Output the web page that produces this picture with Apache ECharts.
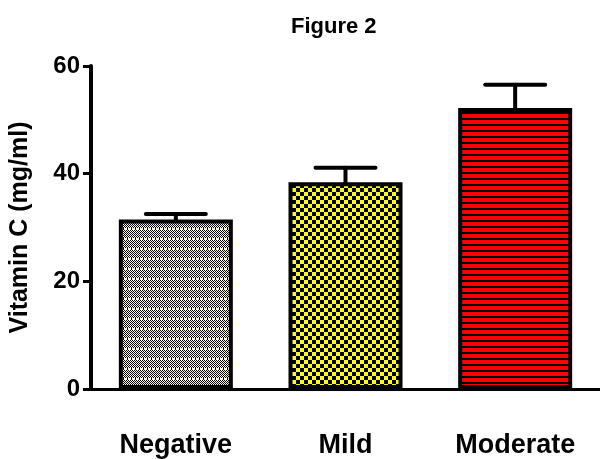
<!DOCTYPE html>
<html>
<head>
<meta charset="utf-8">
<script src="https://cdn.jsdelivr.net/npm/echarts@6/dist/echarts.min.js"></script>
<style>
  html, body { margin: 0; padding: 0; background: #fff; }
  #chart { width: 600px; height: 459px; }
</style>
</head>
<body>
<div id="chart"></div>
<script>
// Vitamin C by group: mean and standard error
const categories = ['Negative', 'Mild', 'Moderate'];
const means = [31.5, 38.4, 52.2];
const errors = [1.0, 2.7, 4.3];
const yTicks = [0, 20, 40, 60];

const FONT = '"Liberation Sans", Arial, sans-serif';

// Fill patterns for each bar
function makeTile(w, h, draw) {
  const c = document.createElement('canvas');
  c.width = w; c.height = h;
  const ctx = c.getContext('2d');
  draw(ctx);
  return c;
}

// fine black / cream checker with a dashed light row
const negTile = makeTile(4, 10, ctx => {
  ctx.fillStyle = '#fdf9dc';
  ctx.fillRect(0, 0, 4, 10);
  ctx.fillStyle = '#000';
  for (let y = 0; y < 8; y++) {
    for (let x = 0; x < 4; x++) {
      if ((x + y) % 2 === 0) ctx.fillRect(x, y, 1, 1);
    }
  }
  ctx.fillRect(3, 8, 1, 2);
});

// coarse yellow / black checker
const mildTile = makeTile(8, 8, ctx => {
  ctx.fillStyle = '#000';
  ctx.fillRect(0, 0, 8, 8);
  ctx.fillStyle = '#ffff00';
  ctx.fillRect(0, 0, 4, 4);
  ctx.fillRect(4, 4, 4, 4);
});

// red with black horizontal stripes
const modTile = makeTile(4, 6, ctx => {
  ctx.fillStyle = '#000';
  ctx.fillRect(0, 0, 4, 6);
  ctx.fillStyle = '#ff0000';
  ctx.fillRect(0, 0, 4, 4);
});

const tiles = [negTile, mildTile, modTile];

const chart = echarts.init(document.getElementById('chart'), null, { renderer: 'canvas' });

const barData = means.map((v, i) => ({
  value: v,
  itemStyle: { color: { image: tiles[i], repeat: 'repeat' } }
}));

const errData = means.map((v, i) => [i, v, v + errors[i]]);

chart.setOption({
  animation: false,
  backgroundColor: '#fff',
  title: {
    text: 'Figure 2',
    left: 286,
    top: 11,
    textStyle: { fontFamily: FONT, fontSize: 22, fontWeight: 'bold', color: '#000' }
  },
  grid: { left: 86, top: 66, width: 522, height: 324, containLabel: false },
  xAxis: {
    type: 'category',
    data: categories,
    boundaryGap: true,
    axisLine: { lineStyle: { color: '#000', width: 3 } },
    axisTick: { alignWithLabel: true, length: 8, lineStyle: { color: '#000', width: 3 } },
    axisLabel: { margin: 43, fontFamily: FONT, fontSize: 27, fontWeight: 'bold', color: '#000' },
    splitLine: { show: false }
  },
  yAxis: {
    type: 'value',
    min: yTicks[0],
    max: yTicks[yTicks.length - 1],
    interval: 20,
    name: 'Vitamin C (mg/ml)',
    nameLocation: 'middle',
    nameRotate: 90,
    nameGap: 58,
    nameTextStyle: { fontFamily: FONT, fontSize: 25, fontWeight: 'bold', color: '#000' },
    axisLine: { show: true, lineStyle: { color: '#000', width: 4 } },
    axisTick: { show: true, length: 8, lineStyle: { color: '#000', width: 3 } },
    axisLabel: { margin: 11, fontFamily: FONT, fontSize: 24, fontWeight: 'bold', color: '#000' },
    splitLine: { show: false }
  },
  series: [
    {
      type: 'bar',
      data: barData,
      barWidth: 114,
      itemStyle: { borderColor: '#000', borderWidth: 4 },
      z: 2
    },
    {
      type: 'custom',
      data: errData,
      z: 3,
      renderItem: function (params, api) {
        const i = api.value(0);
        const lo = api.coord([i, api.value(1)]);
        const hi = api.coord([i, api.value(2)]);
        const half = 30;
        const style = { stroke: '#000', lineWidth: 4, lineCap: 'round' };
        return {
          type: 'group',
          children: [
            { type: 'line', shape: { x1: lo[0], y1: lo[1], x2: hi[0], y2: hi[1] }, style: style },
            { type: 'line', shape: { x1: hi[0] - half, y1: hi[1], x2: hi[0] + half, y2: hi[1] }, style: style }
          ]
        };
      }
    }
  ]
});
</script>
</body>
</html>
